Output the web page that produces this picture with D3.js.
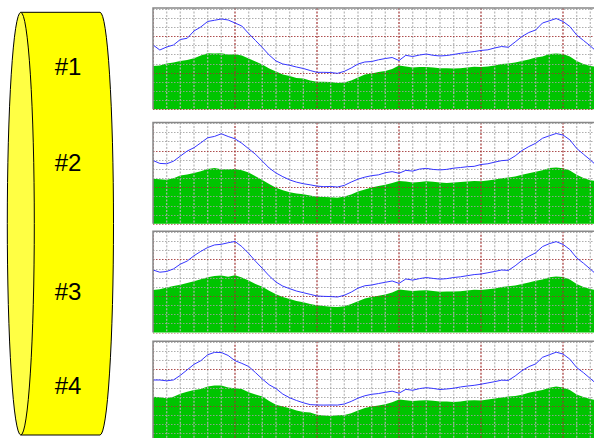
<!DOCTYPE html>
<html>
<head>
<meta charset="utf-8">
<script src="https://cdn.jsdelivr.net/npm/d3@7"></script>
<style>
  html, body { margin: 0; padding: 0; background: #fff; }
  svg { display: block; }
</style>
</head>
<body>
<svg id="chart" width="594" height="438"></svg>
<script>
'use strict';

// labels on the drum
const labels = ['#1', '#2', '#3', '#4'];

// blue line per panel (grid units, 10 per cell, 0..110)
const blue1 = [70.3, 64.8, 68.1, 70.3, 76.3, 77.6, 85.6, 90.0, 96.0, 97.3, 98.7, 97.6, 94.3, 91.0, 82.8, 75.2,
  67.5, 59.3, 52.8, 49.5, 48.1, 46.2, 44.6, 42.4, 40.4, 40.4, 40.2, 39.3, 41.5, 45.1, 49.5, 51.7,
  52.2, 54.1, 55.5, 56.6, 53.3, 59.0, 57.7, 59.3, 60.4, 59.0, 58.3, 58.8, 59.9, 61.2, 62.1, 63.1,
  64.3, 65.0, 67.0, 68.6, 67.8, 73.6, 79.6, 83.9, 86.7, 94.3, 96.7, 99.2, 96.0, 90.5, 81.2, 75.2, 69.2, 62.6];
const blue2 = [69.2, 66.0, 65.6, 68.4, 74.0, 79.5, 83.2, 88.5, 94.0, 95.5, 98.4, 95.4, 92.9, 88.0, 82.0, 76.0,
  68.5, 61.0, 55.5, 51.5, 48.0, 45.5, 43.8, 42.6, 41.2, 40.6, 40.8, 40.2, 42.0, 45.6, 48.8, 51.0,
  52.6, 53.5, 55.8, 57.0, 55.2, 58.4, 57.6, 59.8, 60.6, 59.4, 58.9, 59.5, 60.8, 61.5, 62.4, 62.8,
  64.8, 65.6, 67.4, 69.0, 69.6, 74.2, 80.1, 84.4, 88.0, 93.5, 96.2, 98.7, 97.0, 91.8, 82.4, 76.0, 69.8, 63.0];
const blue3 = [68.4, 66.0, 66.8, 69.6, 74.8, 78.2, 84.0, 88.8, 93.0, 95.8, 96.5, 98.2, 99.6, 94.0, 86.5, 78.0,
  70.2, 62.0, 55.2, 50.8, 48.0, 45.4, 43.6, 41.8, 40.0, 39.6, 39.4, 38.9, 40.8, 44.2, 48.6, 51.2,
  52.0, 53.6, 55.0, 56.4, 53.8, 58.6, 57.4, 59.0, 60.2, 59.2, 58.4, 59.0, 60.2, 61.0, 62.2, 63.4,
  64.0, 65.4, 66.8, 68.4, 68.0, 73.0, 79.0, 83.4, 87.2, 94.0, 97.2, 99.4, 96.4, 90.8, 81.6, 75.8, 69.4, 62.8];
const blue4 = [68.4, 68.4, 67.5, 68.5, 73.5, 79.5, 85.5, 89.5, 96.0, 98.6, 98.5, 95.2, 89.5, 86.6, 83.2, 76.5,
  69.5, 63.2, 59.0, 53.0, 49.0, 46.0, 43.5, 41.5, 41.1, 41.0, 41.1, 41.0, 42.2, 45.0, 48.6, 51.2,
  52.8, 53.6, 55.0, 56.2, 54.0, 58.2, 57.2, 59.0, 60.0, 59.2, 58.0, 58.6, 59.4, 60.8, 61.8, 62.6,
  63.8, 65.2, 66.6, 68.2, 68.0, 72.8, 78.6, 83.0, 86.0, 93.2, 96.0, 98.8, 96.8, 91.2, 82.0, 76.4, 70.0, 63.6];

// green area per panel
const green1 = [47.3, 47.9, 50.1, 51.2, 52.8, 53.9, 55.7, 58.8, 61.2, 61.0, 61.2, 59.9, 60.1, 58.8, 55.5, 52.2,
  49.0, 44.6, 41.3, 38.0, 36.4, 34.2, 33.7, 31.5, 30.2, 30.2, 29.8, 28.7, 29.3, 31.5, 34.8, 38.0,
  39.1, 40.8, 41.9, 44.0, 47.9, 46.8, 45.7, 46.2, 46.2, 45.7, 44.8, 44.8, 44.6, 44.8, 45.7, 46.6,
  46.2, 46.8, 47.9, 49.5, 50.1, 51.2, 52.8, 54.4, 56.6, 57.7, 60.4, 61.0, 60.4, 57.7, 52.8, 49.5, 47.3, 46.2];
const green2 = [49.2, 48.8, 48.1, 49.8, 52.8, 54.0, 55.5, 57.5, 60.0, 61.0, 59.5, 59.5, 60.0, 58.5, 56.0, 52.0,
  48.0, 43.5, 39.5, 36.6, 34.5, 33.0, 32.4, 31.0, 29.6, 29.2, 28.9, 28.6, 29.8, 32.0, 35.2, 37.6,
  39.8, 41.2, 42.6, 44.5, 46.8, 46.2, 45.2, 45.8, 46.6, 45.9, 45.1, 44.6, 45.2, 45.6, 46.2, 46.9,
  46.5, 47.4, 48.4, 49.9, 50.6, 51.8, 53.5, 55.2, 57.0, 58.4, 60.9, 61.5, 60.6, 58.2, 53.5, 50.0, 47.6, 46.5];
const green3 = [46.6, 47.4, 49.2, 50.8, 52.4, 54.2, 56.0, 58.2, 60.6, 61.8, 62.4, 61.0, 62.6, 60.2, 57.0, 53.2,
  50.0, 45.8, 42.0, 38.8, 36.8, 34.6, 33.2, 31.2, 29.8, 29.0, 28.2, 28.0, 28.8, 31.2, 34.2, 37.4,
  38.8, 40.4, 41.6, 43.8, 47.2, 46.4, 45.4, 46.0, 46.4, 45.6, 44.6, 44.8, 45.0, 45.2, 46.0, 46.8,
  46.6, 47.4, 48.2, 49.8, 50.6, 51.6, 53.2, 54.8, 56.8, 58.0, 60.6, 61.4, 60.8, 58.0, 53.2, 49.8, 47.6, 46.4];
const green4 = [50.2, 49.5, 48.4, 50.2, 53.3, 55.5, 57.5, 58.5, 61.4, 62.5, 62.5, 60.2, 59.4, 58.5, 55.0, 52.5,
  50.5, 45.5, 41.5, 39.5, 37.5, 35.2, 33.5, 32.8, 30.5, 29.5, 29.2, 30.0, 30.2, 32.0, 35.0, 37.8,
  39.4, 40.6, 42.0, 44.2, 47.2, 46.4, 45.4, 46.0, 46.4, 45.8, 45.0, 44.9, 44.4, 45.0, 45.9, 46.4,
  46.0, 47.0, 48.2, 49.2, 50.4, 51.0, 52.4, 54.6, 56.2, 57.4, 60.0, 61.2, 60.2, 57.4, 52.6, 49.8, 47.6, 46.4];

const blues = [blue1, blue2, blue3, blue4];
const greens = [green1, green2, green3, green4];
const panelTops = [8, 122.5, 231.3, 341.3];
const labelY = [75, 171, 300, 394];

const svg = d3.select('#chart');
const left = 153;
const panelW = 492;
const panelH = 101.3;

// ---- drum ----
const drum = svg.append('g');
const cx0 = 20.8, cx1 = 100, drumTop = 12.3, drumBot = 435, rx = 13.5;
const ry = (drumBot - drumTop) / 2;
drum.append('path')
  .attr('d', `M${cx0},${drumTop} H${cx1} A${rx},${ry} 0 0 1 ${cx1},${drumBot} H${cx0} Z`)
  .attr('fill', '#ffff00')
  .attr('stroke', '#000')
  .attr('stroke-width', 1);
drum.append('ellipse')
  .attr('cx', cx0).attr('cy', drumTop + ry)
  .attr('rx', rx).attr('ry', ry)
  .attr('fill', '#ffff44')
  .attr('stroke', '#000')
  .attr('stroke-width', 1);
drum.selectAll('text.lbl')
  .data(labels)
  .enter().append('text')
  .attr('class', 'lbl')
  .attr('x', 68)
  .attr('y', (d, i) => labelY[i])
  .attr('text-anchor', 'middle')
  .attr('style', 'font-family: "Liberation Sans", Arial, sans-serif; font-size: 24px; fill: #000')
  .text(d => d);

// ---- panels ----
const x = d3.scaleLinear().domain([0, 72]).range([left, left + panelW]);
const xTicks = d3.range(0, 73, 2);
const yTicks = d3.range(0, 111, 10);

panelTops.forEach(function(pt, p) {
  const y = d3.scaleLinear().domain([0, 110]).range([pt + panelH, pt + 0.65]);
  const g = svg.append('g');

  g.append('clipPath').attr('id', 'clip' + p)
    .append('rect')
    .attr('x', left).attr('y', pt)
    .attr('width', panelW).attr('height', panelH + 1);

  const inner = g.append('g').attr('clip-path', 'url(#clip' + p + ')');

  const area = d3.area()
    .x((d, i) => x(i))
    .y0(y(0))
    .y1(d => y(d));
  inner.append('path')
    .datum(greens[p])
    .attr('d', area)
    .attr('fill', '#00c400');

  // grid
  inner.selectAll('line.vg')
    .data(xTicks)
    .enter().append('line')
    .attr('x1', d => x(d)).attr('x2', d => x(d))
    .attr('y1', pt).attr('y2', y(0))
    .attr('stroke', d => d % 12 === 0 ? '#a03030' : '#b4b4b4')
    .attr('stroke-opacity', 0.85)
    .attr('stroke-width', 1.4)
    .attr('stroke-dasharray', '2,1.5');
  inner.selectAll('line.hg')
    .data(yTicks)
    .enter().append('line')
    .attr('x1', left).attr('x2', left + panelW)
    .attr('y1', d => Math.round(y(d)) + 0.5).attr('y2', d => Math.round(y(d)) + 0.5)
    .attr('stroke', d => d % 40 === 0 ? '#a03030' : '#a0a0a0')
    .attr('stroke-opacity', 0.85)
    .attr('stroke-width', 1)
    .attr('stroke-dasharray', '1.5,1.5');

  const line = d3.line()
    .x((d, i) => x(i))
    .y(d => y(d));
  inner.append('path')
    .datum(blues[p])
    .attr('d', line)
    .attr('fill', 'none')
    .attr('stroke', '#3535ff')
    .attr('stroke-width', 1);

  // frame: top and left
  g.append('path')
    .attr('d', `M${left},${pt + panelH} V${pt} H${left + panelW}`)
    .attr('fill', 'none')
    .attr('stroke', '#888')
    .attr('stroke-width', 1.5);
});
</script>
</body>
</html>
